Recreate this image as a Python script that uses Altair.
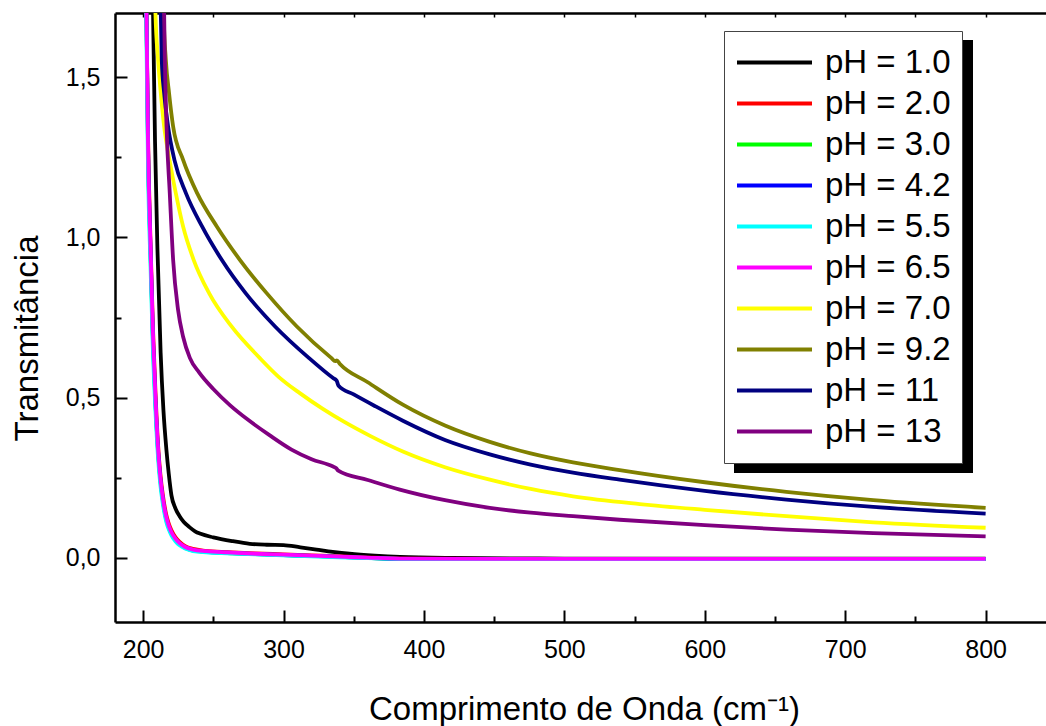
import altair as alt
import pandas as pd

FONT = "Liberation Sans"

series_names = ["pH = 1.0", "pH = 2.0", "pH = 3.0", "pH = 4.2", "pH = 5.5",
                "pH = 6.5", "pH = 7.0", "pH = 9.2", "pH = 11", "pH = 13"]
series_colors = ["#000000", "#ff0000", "#00ff00", "#0000ff", "#00ffff",
                 "#ff00ff", "#ffff00", "#808000", "#000080", "#800080"]

x_major_ticks = [200, 300, 400, 500, 600, 700, 800]
x_minor_ticks = [250, 350, 450, 550, 650, 750]
x_top_ticks = [200, 250, 300, 350, 400, 450, 500, 550, 600, 650, 700, 750, 800]
y_major_ticks = [0.0, 0.5, 1.0, 1.5]
y_minor_ticks = [0.25, 0.75, 1.25]

# pH 1.0
ph10_x = [206.6, 207.1, 208.5, 210.2, 212.5, 214.5, 216.6, 218.3, 220.2, 223.0, 226.0, 229.0,
          233.0, 237.0, 241.0, 250.0, 264.0, 276.0, 288.0, 300.0, 312.0, 323.5, 335.0, 347.0,
          365.0, 383.0, 420.0, 500.0, 600.0, 700.0, 800.0]
ph10_y = [1.80, 1.70, 1.30, 0.967, 0.64, 0.46, 0.338, 0.262, 0.195, 0.155, 0.130, 0.112,
          0.096, 0.083, 0.075, 0.064, 0.052, 0.044, 0.041, 0.040, 0.033, 0.026, 0.019, 0.013,
          0.007, 0.003, 0.000, -0.002, -0.002, -0.002, -0.002]

# low group (pH 2.0 - 6.5) share wavelengths
low_x = [201.9, 202.4, 203.5, 205.3, 207.0, 208.8, 210.7, 212.3, 214.2, 216.5, 218.3, 220.2,
         223.0, 226.0, 230.0, 235.6, 245.0, 260.0, 280.0, 300.0, 320.0, 340.0, 360.0, 383.0,
         450.0, 550.0, 650.0, 800.0]
ph20_y = [1.80, 1.70, 1.32, 0.985, 0.72, 0.52, 0.350, 0.262, 0.192, 0.135, 0.107, 0.086,
          0.065, 0.050, 0.037, 0.028, 0.022, 0.018, 0.014, 0.011, 0.008, 0.005, 0.001, -0.002,
          -0.003, -0.003, -0.003, -0.003]
ph30_y = [1.80, 1.70, 1.28, 0.95, 0.68, 0.485, 0.328, 0.242, 0.175, 0.120, 0.094, 0.075,
          0.056, 0.042, 0.031, 0.023, 0.019, 0.015, 0.012, 0.009, 0.006, 0.003, 0.000, -0.003,
          -0.004, -0.004, -0.004, -0.004]
ph42_y = [1.80, 1.70, 1.29, 0.96, 0.69, 0.49, 0.332, 0.246, 0.178, 0.122, 0.096, 0.077,
          0.057, 0.043, 0.032, 0.024, 0.019, 0.016, 0.012, 0.009, 0.006, 0.003, 0.000, -0.003,
          -0.003, -0.003, -0.003, -0.003]
ph55_y = [1.80, 1.62, 1.22, 0.91, 0.65, 0.46, 0.310, 0.228, 0.165, 0.113, 0.089, 0.070,
          0.052, 0.039, 0.029, 0.021, 0.017, 0.014, 0.011, 0.008, 0.005, 0.002, -0.001, -0.003,
          -0.004, -0.004, -0.004, -0.004]
ph65_y = [1.80, 1.70, 1.30, 0.967, 0.70, 0.50, 0.338, 0.250, 0.182, 0.127, 0.100, 0.080,
          0.060, 0.046, 0.034, 0.026, 0.021, 0.017, 0.013, 0.010, 0.007, 0.004, 0.001, -0.002,
          -0.003, -0.003, -0.003, -0.003]

# pH 7.0
ph70_x = [208.3, 208.8, 210.7, 212.6, 215.0, 218.8, 223.3, 228.5, 236.0, 247.0, 263.0, 283.0,
          296.5, 311.6, 328.0, 343.0, 362.0, 385.0, 415.0, 446.9, 476.0, 506.2, 553.7, 600.0,
          658.1, 720.0, 800.0]
ph70_y = [1.80, 1.70, 1.554, 1.450, 1.346, 1.242, 1.138, 1.034, 0.930, 0.826, 0.722, 0.624,
          0.565, 0.514, 0.465, 0.425, 0.380, 0.332, 0.283, 0.244, 0.215, 0.192, 0.168, 0.150,
          0.130, 0.111, 0.094]

# pH 9.2
ph92_x = [214.2, 214.6, 216.2, 218.5, 221.4, 228.5, 238.5, 252.5, 268.9, 288.0, 309.5, 334.0,
          336.8, 338.0, 340.0, 360.0, 385.0, 415.0, 446.9, 476.0, 506.2, 539.4, 600.0, 658.1,
          720.0, 800.0]
ph92_y = [1.80, 1.70, 1.554, 1.450, 1.346, 1.242, 1.138, 1.034, 0.930, 0.826, 0.722, 0.624,
          0.614, 0.616, 0.606, 0.548, 0.478, 0.413, 0.362, 0.326, 0.298, 0.274, 0.236, 0.206,
          0.180, 0.156]

# pH 11
ph11_x = [212.3, 212.6, 213.3, 215.0, 217.8, 222.3, 230.5, 242.0, 256.0, 273.0, 294.0, 318.0,
          335.3, 337.8, 339.2, 350.0, 365.0, 385.0, 415.0, 446.9, 476.0, 506.2, 539.4, 600.0,
          658.1, 720.0, 800.0]
ph11_y = [1.80, 1.70, 1.554, 1.450, 1.346, 1.242, 1.138, 1.034, 0.930, 0.826, 0.722, 0.624,
          0.561, 0.553, 0.537, 0.510, 0.474, 0.428, 0.368, 0.323, 0.291, 0.266, 0.244, 0.209,
          0.182, 0.159, 0.138]

# pH 13
ph13_x = [214.8, 215.0, 215.5, 216.7, 219.0, 221.4, 224.9, 228.5, 233.3, 240.0, 250.0, 262.0,
          275.0, 290.0, 305.7, 320.0, 335.3, 337.5, 339.0, 360.0, 382.8, 415.0, 446.9, 476.0,
          506.2, 539.4, 600.0, 658.1, 720.0, 800.0]
ph13_y = [1.80, 1.70, 1.554, 1.346, 1.138, 0.930, 0.774, 0.690, 0.624, 0.578, 0.527, 0.476,
          0.430, 0.383, 0.338, 0.308, 0.285, 0.280, 0.272, 0.243, 0.213, 0.180, 0.156, 0.141,
          0.130, 0.119, 0.102, 0.088, 0.077, 0.067]

series_x = [ph10_x, low_x, low_x, low_x, low_x, low_x, ph70_x, ph92_x, ph11_x, ph13_x]
series_y = [ph10_y, ph20_y, ph30_y, ph42_y, ph55_y, ph65_y, ph70_y, ph92_y, ph11_y, ph13_y]

rows = []
for k, (name, xs_, ys_) in enumerate(zip(series_names, series_x, series_y)):
    for xv, yv in zip(xs_, ys_):
        rows.append({"x": xv, "y": yv, "series": name, "k": k})
df = pd.DataFrame(rows)
dummy = pd.DataFrame({"x": [500.0], "y": [0.5]})

xscale = alt.Scale(domain=[180, 843], nice=False, zero=False)
yscale = alt.Scale(domain=[-0.2, 1.7], nice=False, zero=False)

common = dict(grid=False, tickColor="black", domainColor="black", labelColor="black",
              titleColor="black", labelFont=FONT, titleFont=FONT)

x_main_axis = alt.Axis(orient="bottom", values=x_major_ticks, tickSize=12, tickWidth=2,
                       offset=-12, domain=False, labelFontSize=25, labelPadding=15,
                       format="d", title="Comprimento de Onda (cm⁻¹)", titleFontSize=33,
                       titleFontWeight="normal", titleX=469, titleY=109,
                       titleBaseline="alphabetic", titleAlign="center", **common)
y_main_axis = alt.Axis(orient="left", values=y_major_ticks, tickSize=12, tickWidth=2,
                       offset=-12, domain=False, labelFontSize=25, labelPadding=15,
                       labelExpr="replace(format(datum.value, '.1f'), '.', ',')",
                       title="Transmitância", titleFontSize=33, titleFontWeight="normal",
                       titleX=-90, titleY=325, titleAngle=270, titleBaseline="alphabetic",
                       titleAlign="center", **common)

legend = alt.Legend(title=None, orient="none", legendX=609, legendY=18, fillColor="white",
                    strokeColor="#444444", padding=11, symbolType="stroke", symbolSize=5625,
                    symbolStrokeWidth=4, labelFont=FONT, labelFontSize=33, labelColor="black",
                    labelOffset=11, rowPadding=0, clipHeight=41)

shadow = alt.Chart(dummy).mark_rect(color="black").encode(
    x=alt.value(619), x2=alt.value(858), y=alt.value(27), y2=alt.value(460))

lines = alt.Chart(df).mark_line(clip=True, strokeWidth=3.8, interpolate="monotone").encode(
    x=alt.X("x:Q", scale=xscale, axis=x_main_axis),
    y=alt.Y("y:Q", scale=yscale, axis=y_main_axis),
    color=alt.Color("series:N", scale=alt.Scale(domain=series_names, range=series_colors),
                    sort=series_names, legend=legend),
    detail="k:O",
)


def axis_layer(xaxis, yaxis):
    return alt.Chart(dummy).mark_point(opacity=0).encode(
        x=alt.X("x:Q", scale=xscale, axis=xaxis),
        y=alt.Y("y:Q", scale=yscale, axis=yaxis),
    )


minor = axis_layer(
    alt.Axis(orient="bottom", values=x_minor_ticks, tickSize=6, tickWidth=2, offset=-6,
             domain=False, labels=False, title=None, **common),
    alt.Axis(orient="left", values=y_minor_ticks, tickSize=6, tickWidth=2, offset=-6,
             domain=False, labels=False, title=None, **common),
)
frame = axis_layer(
    alt.Axis(orient="bottom", ticks=False, labels=False, domain=True, domainWidth=2.5,
             title=None, **common),
    alt.Axis(orient="left", ticks=False, labels=False, domain=True, domainWidth=2.5,
             title=None, **common),
)
top_ticks = axis_layer(
    alt.Axis(orient="top", values=x_top_ticks, tickSize=4, tickWidth=1.5, offset=-4,
             domain=False, labels=False, title=None, **common),
    None,
)
top_frame = axis_layer(
    alt.Axis(orient="top", ticks=False, labels=False, domain=True, domainWidth=2.5,
             title=None, **common),
    None,
)

chart = alt.layer(shadow, lines, minor, frame, top_ticks, top_frame).resolve_axis(
    x="independent", y="independent"
).properties(
    width=931, height=609,
    autosize=alt.AutoSizeParams(type="none"),
    padding={"left": 115, "top": 13, "right": 0, "bottom": 104},
    background="white",
).configure_view(stroke=None)

chart.save("out.html", embed_options={"renderer": "svg", "actions": False})
